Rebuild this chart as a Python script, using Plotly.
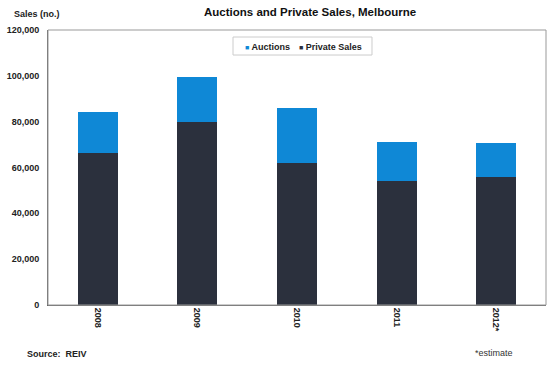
import plotly.graph_objects as go

years = ["2008", "2009", "2010", "2011", "2012*"]
private_sales = [66200, 80000, 62000, 54300, 55700]
auctions = [18100, 19700, 24000, 17000, 15000]
y_ticks = [0, 20000, 40000, 60000, 80000, 100000, 120000]
y_tick_labels = ["0", "20,000", "40,000", "60,000", "80,000", "100,000", "120,000"]

FONT = "Liberation Sans, Arial, sans-serif"
C_PRIV = "#2b303d"
C_AUC = "#0f88d6"

fig = go.Figure()
fig.add_trace(go.Bar(x=years, y=private_sales, name="Private Sales",
                     marker=dict(color=C_PRIV, line=dict(width=0))))
fig.add_trace(go.Bar(x=years, y=auctions, name="Auctions",
                     marker=dict(color=C_AUC, line=dict(width=0))))

def legend_item(label, color, x):
    return dict(text=f"<span style='color:{color};font-size:7px'>■</span> {label}",
                xref="paper", yref="paper", x=x, y=0.94, xanchor="left", yanchor="middle",
                showarrow=False, font=dict(size=9, weight="bold", family=FONT, color="#222"))

fig.update_layout(
    width=550, height=365,
    barmode="stack", bargap=0.6,
    margin=dict(l=48, r=4, t=30, b=60, autoexpand=False),
    paper_bgcolor="white", plot_bgcolor="white",
    font=dict(family=FONT, size=9, color="#222"),
    showlegend=False,
    annotations=[
        dict(text="Auctions and Private Sales, Melbourne", xref="paper", yref="paper",
             x=0.527, y=1, xanchor="center", yanchor="bottom", yshift=10, showarrow=False,
             font=dict(size=11.5, weight="bold", family=FONT, color="#111")),
        dict(text="Sales (no.)", xref="paper", yref="paper", x=-0.072, y=1,
             xanchor="left", yanchor="bottom", yshift=9, showarrow=False,
             font=dict(size=9, weight="bold", family=FONT, color="#222")),
        legend_item("Auctions", C_AUC, 0.391),
        legend_item("Private Sales", C_PRIV, 0.500),
        dict(text="Source:  REIV", xref="paper", yref="paper", x=-0.046, y=0,
             xanchor="left", yanchor="top", yshift=-42, showarrow=False,
             font=dict(size=9, weight="bold", family=FONT, color="#222")),
        dict(text="*estimate", xref="paper", yref="paper", x=0.853, y=0,
             xanchor="left", yanchor="top", yshift=-41, showarrow=False,
             font=dict(size=9, family=FONT, color="#333")),
    ],
    shapes=[
        dict(type="rect", xref="paper", yref="paper", x0=0.3715, y0=0.909, x1=0.6506, y1=0.9745,
             line=dict(color="#cccccc", width=1), fillcolor="white", layer="below"),
        dict(type="rect", xref="paper", yref="paper", x0=0, y0=0, x1=1, y1=1,
             line=dict(color="#999999", width=1), layer="above"),
    ],
)

fig.update_xaxes(showgrid=False, tickangle=90, showline=True, linecolor="#666",
                 tickfont=dict(size=9, weight="bold", family=FONT, color="#222"),
                 ticks="", automargin=False)
fig.update_yaxes(range=[0, 120000], tickvals=y_ticks, ticktext=y_tick_labels,
                 showgrid=False, zeroline=False, showline=True, linecolor="#666",
                 ticks="", ticklabelstandoff=6, automargin=False,
                 tickfont=dict(size=9, weight="bold", family=FONT, color="#222"))

fig.write_html("out.html", config={"displayModeBar": False},
               post_script="document.body.style.margin='0';document.body.style.overflow='hidden';")
